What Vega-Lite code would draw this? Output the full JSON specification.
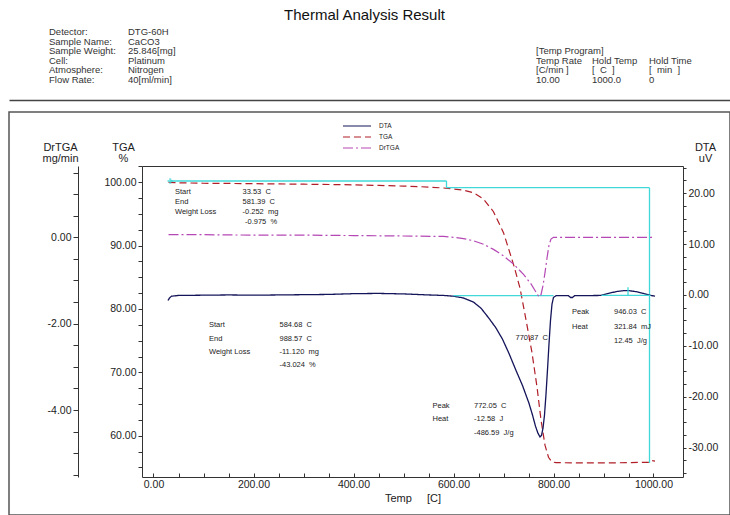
{
  "$schema": "https://vega.github.io/schema/vega-lite/v6.json",
  "width": 721,
  "height": 403,
  "autosize": {"type": "none"},
  "padding": {"left": 9, "top": 112, "right": 0, "bottom": 0},
  "background": "#ffffff",
  "title": {"text": "Thermal Analysis Result", "fontSize": 15, "fontWeight": "normal", "font": "Liberation Sans", "color": "#111111", "anchor": "middle", "frame": "group", "baseline": "alphabetic", "offset": 5, "dx": -5, "dy": 13},
  "config": {
    "font": "Liberation Sans",
    "view": {"stroke": "#555555", "strokeWidth": 1.5},
    "axis": {"labelFont": "Liberation Sans", "labelFontSize": 10.5, "labelColor": "#222222", "domainColor": "#333333", "tickColor": "#333333", "titleFont": "Liberation Sans", "titleFontWeight": "normal", "titleColor": "#222222", "grid": false, "labelFlush": false, "labelOverlap": false}
  },
  "datasets": {
    "header": [
      {"row": 1, "col": 1, "text": "Detector:"}, {"row": 1, "col": 2, "text": "DTG-60H"},
      {"row": 2, "col": 1, "text": "Sample Name:"}, {"row": 2, "col": 2, "text": "CaCO3"},
      {"row": 3, "col": 1, "text": "Sample Weight:"}, {"row": 3, "col": 2, "text": "25.846[mg]"},
      {"row": 4, "col": 1, "text": "Cell:"}, {"row": 4, "col": 2, "text": "Platinum"},
      {"row": 5, "col": 1, "text": "Atmosphere:"}, {"row": 5, "col": 2, "text": "Nitrogen"},
      {"row": 6, "col": 1, "text": "Flow Rate:"}, {"row": 6, "col": 2, "text": "40[ml/min]"},
      {"row": 3, "col": 3, "text": "[Temp Program]"},
      {"row": 4, "col": 3, "text": "Temp Rate"}, {"row": 4, "col": 4, "text": "Hold Temp"}, {"row": 4, "col": 5, "text": "Hold Time"},
      {"row": 5, "col": 3, "text": "[C/min ]"}, {"row": 5, "col": 4, "text": "[\u00a0\u00a0C\u00a0\u00a0]"}, {"row": 5, "col": 5, "text": "[\u00a0\u00a0min\u00a0\u00a0]"},
      {"row": 6, "col": 3, "text": "10.00"}, {"row": 6, "col": 4, "text": "1000.0"}, {"row": 6, "col": 5, "text": "0"}
    ],
    "curves": [
      {"s": "TGA", "t": 30, "v": 100.0}, {"s": "TGA", "t": 50, "v": 99.92}, {"s": "TGA", "t": 100, "v": 99.85}, {"s": "TGA", "t": 200, "v": 99.78},
      {"s": "TGA", "t": 300, "v": 99.7}, {"s": "TGA", "t": 400, "v": 99.6}, {"s": "TGA", "t": 450, "v": 99.5}, {"s": "TGA", "t": 500, "v": 99.4},
      {"s": "TGA", "t": 550, "v": 99.25}, {"s": "TGA", "t": 580, "v": 99.1}, {"s": "TGA", "t": 600, "v": 98.95}, {"s": "TGA", "t": 620, "v": 98.75},
      {"s": "TGA", "t": 640, "v": 98.35}, {"s": "TGA", "t": 660, "v": 97.35}, {"s": "TGA", "t": 680, "v": 95.35}, {"s": "TGA", "t": 700, "v": 92.05},
      {"s": "TGA", "t": 720, "v": 87.05}, {"s": "TGA", "t": 733, "v": 83.3}, {"s": "TGA", "t": 745, "v": 78.3}, {"s": "TGA", "t": 757, "v": 73.1},
      {"s": "TGA", "t": 767, "v": 67.7}, {"s": "TGA", "t": 775, "v": 62.5}, {"s": "TGA", "t": 783, "v": 58.5}, {"s": "TGA", "t": 790, "v": 56.6},
      {"s": "TGA", "t": 797, "v": 55.85}, {"s": "TGA", "t": 805, "v": 55.75}, {"s": "TGA", "t": 850, "v": 55.7}, {"s": "TGA", "t": 900, "v": 55.7},
      {"s": "TGA", "t": 950, "v": 55.75}, {"s": "TGA", "t": 990, "v": 55.8}, {"s": "TGA", "t": 995, "v": 56.1}, {"s": "TGA", "t": 1003, "v": 56.0},
      {"s": "DrTGA", "t": 30, "v": 0.06}, {"s": "DrTGA", "t": 100, "v": 0.06}, {"s": "DrTGA", "t": 200, "v": 0.05}, {"s": "DrTGA", "t": 300, "v": 0.05},
      {"s": "DrTGA", "t": 400, "v": 0.04}, {"s": "DrTGA", "t": 500, "v": 0.03}, {"s": "DrTGA", "t": 580, "v": 0.02}, {"s": "DrTGA", "t": 600, "v": 0.0},
      {"s": "DrTGA", "t": 620, "v": -0.03}, {"s": "DrTGA", "t": 640, "v": -0.08}, {"s": "DrTGA", "t": 660, "v": -0.16}, {"s": "DrTGA", "t": 680, "v": -0.28},
      {"s": "DrTGA", "t": 700, "v": -0.43}, {"s": "DrTGA", "t": 720, "v": -0.62}, {"s": "DrTGA", "t": 740, "v": -0.86}, {"s": "DrTGA", "t": 755, "v": -1.08},
      {"s": "DrTGA", "t": 765, "v": -1.27}, {"s": "DrTGA", "t": 771, "v": -1.38}, {"s": "DrTGA", "t": 775, "v": -1.33}, {"s": "DrTGA", "t": 779, "v": -1.12},
      {"s": "DrTGA", "t": 783, "v": -0.82}, {"s": "DrTGA", "t": 787, "v": -0.48}, {"s": "DrTGA", "t": 791, "v": -0.18}, {"s": "DrTGA", "t": 795, "v": -0.04},
      {"s": "DrTGA", "t": 800, "v": 0.0}, {"s": "DrTGA", "t": 900, "v": 0.0}, {"s": "DrTGA", "t": 1003, "v": 0.0},
      {"s": "DTA", "t": 29, "v": -1.1}, {"s": "DTA", "t": 32, "v": -0.6}, {"s": "DTA", "t": 36, "v": -0.25}, {"s": "DTA", "t": 50, "v": -0.1},
      {"s": "DTA", "t": 100, "v": -0.05}, {"s": "DTA", "t": 150, "v": 0.0}, {"s": "DTA", "t": 200, "v": -0.05}, {"s": "DTA", "t": 250, "v": 0.0},
      {"s": "DTA", "t": 300, "v": 0.05}, {"s": "DTA", "t": 350, "v": 0.1}, {"s": "DTA", "t": 400, "v": 0.25}, {"s": "DTA", "t": 450, "v": 0.3},
      {"s": "DTA", "t": 500, "v": 0.2}, {"s": "DTA", "t": 550, "v": 0.0}, {"s": "DTA", "t": 580, "v": -0.1}, {"s": "DTA", "t": 600, "v": -0.25},
      {"s": "DTA", "t": 620, "v": -0.6}, {"s": "DTA", "t": 640, "v": -1.4}, {"s": "DTA", "t": 655, "v": -2.6}, {"s": "DTA", "t": 671, "v": -4.6},
      {"s": "DTA", "t": 685, "v": -6.5}, {"s": "DTA", "t": 698, "v": -8.7}, {"s": "DTA", "t": 711, "v": -11.5}, {"s": "DTA", "t": 724, "v": -14.6},
      {"s": "DTA", "t": 738, "v": -17.8}, {"s": "DTA", "t": 751, "v": -21.3}, {"s": "DTA", "t": 758, "v": -23.6}, {"s": "DTA", "t": 764, "v": -25.8},
      {"s": "DTA", "t": 769, "v": -27.2}, {"s": "DTA", "t": 773, "v": -27.9}, {"s": "DTA", "t": 776, "v": -27.6}, {"s": "DTA", "t": 779, "v": -26.2},
      {"s": "DTA", "t": 782, "v": -23.6}, {"s": "DTA", "t": 785, "v": -19.5}, {"s": "DTA", "t": 788, "v": -14.7}, {"s": "DTA", "t": 791, "v": -9.6},
      {"s": "DTA", "t": 794, "v": -5.0}, {"s": "DTA", "t": 797, "v": -1.8}, {"s": "DTA", "t": 800, "v": -0.5}, {"s": "DTA", "t": 805, "v": -0.15},
      {"s": "DTA", "t": 830, "v": -0.15}, {"s": "DTA", "t": 834, "v": -0.5}, {"s": "DTA", "t": 838, "v": -0.5}, {"s": "DTA", "t": 842, "v": -0.15},
      {"s": "DTA", "t": 895, "v": -0.1}, {"s": "DTA", "t": 910, "v": 0.3}, {"s": "DTA", "t": 925, "v": 0.65}, {"s": "DTA", "t": 940, "v": 0.85},
      {"s": "DTA", "t": 950, "v": 0.85}, {"s": "DTA", "t": 965, "v": 0.65}, {"s": "DTA", "t": 980, "v": 0.3}, {"s": "DTA", "t": 993, "v": -0.05},
      {"s": "DTA", "t": 1003, "v": -0.25}
    ],
    "tgaMarks": [
      {"seg": "a", "t": 33.5, "v": 100.2}, {"seg": "a", "t": 586, "v": 100.2},
      {"seg": "b", "t": 586, "v": 100.2}, {"seg": "b", "t": 586, "v": 99.15},
      {"seg": "c", "t": 586, "v": 99.15}, {"seg": "c", "t": 992, "v": 99.15},
      {"seg": "d", "t": 992, "v": 99.15}, {"seg": "d", "t": 992, "v": 55.7}
    ],
    "startMark": [{"t": 33.5, "v": 100.2}],
    "dtaMarks": [
      {"seg": "a", "t": 600, "v": -0.15}, {"seg": "a", "t": 800, "v": -0.15},
      {"seg": "b", "t": 896, "v": -0.1}, {"seg": "b", "t": 994, "v": -0.1},
      {"seg": "c", "t": 949, "v": -0.1}, {"seg": "c", "t": 949, "v": 1.5}
    ],
    "notes": [
      {"t": 43, "v": 98.47, "label": "Start"}, {"t": 178, "v": 98.47, "label": "33.53\u00a0\u00a0C"},
      {"t": 43, "v": 96.89, "label": "End"}, {"t": 178, "v": 96.89, "label": "581.39\u00a0\u00a0C"},
      {"t": 43, "v": 95.31, "label": "Weight Loss"}, {"t": 178, "v": 95.31, "label": "-0.252\u00a0\u00a0mg"},
      {"t": 183, "v": 93.73, "label": "-0.975\u00a0\u00a0%"},
      {"t": 111, "v": 77.47, "label": "Start"}, {"t": 252, "v": 77.47, "label": "584.68\u00a0\u00a0C"},
      {"t": 111, "v": 75.34, "label": "End"}, {"t": 252, "v": 75.34, "label": "988.57\u00a0\u00a0C"},
      {"t": 111, "v": 73.21, "label": "Weight Loss"}, {"t": 252, "v": 73.21, "label": "-11.120\u00a0\u00a0mg"},
      {"t": 252, "v": 71.08, "label": "-43.024\u00a0\u00a0%"},
      {"t": 558, "v": 64.69, "label": "Peak"}, {"t": 641, "v": 64.69, "label": "772.05\u00a0\u00a0C"},
      {"t": 558, "v": 62.56, "label": "Heat"}, {"t": 641, "v": 62.56, "label": "-12.58\u00a0\u00a0J"},
      {"t": 641, "v": 60.43, "label": "-486.59\u00a0\u00a0J/g"},
      {"t": 837, "v": 79.45, "label": "Peak"}, {"t": 921, "v": 79.45, "label": "946.03\u00a0\u00a0C"},
      {"t": 837, "v": 77.16, "label": "Heat"}, {"t": 921, "v": 77.16, "label": "321.84\u00a0\u00a0mJ"},
      {"t": 921, "v": 74.87, "label": "12.45\u00a0\u00a0J/g"},
      {"t": 724, "v": 75.42, "label": "770.87\u00a0\u00a0C"}
    ]
  },
  "resolve": {"scale": {"x": "independent", "y": "independent"}},
  "layer": [
    {
      "data": {"name": "header"},
      "mark": {"type": "text", "align": "left", "baseline": "middle", "fontSize": 9.5, "color": "#333333", "font": "Liberation Sans"},
      "encoding": {
        "x": {"field": "col", "type": "quantitative", "scale": {"domain": [0, 1, 2, 3, 4, 5, 6], "range": [0, 40, 119, 527, 583, 640, 721], "nice": false, "zero": false},
              "axis": {"orient": "top", "offset": 12, "labels": false, "ticks": false, "domain": true, "domainColor": "#444444", "domainWidth": 1.5, "title": null}},
        "y": {"field": "row", "type": "quantitative", "scale": {"domain": [1, 6], "range": [-80, -32], "nice": false, "zero": false}, "axis": null},
        "text": {"field": "text"}
      }
    },
    {
      "encoding": {
        "x": {"field": "t", "type": "quantitative", "scale": {"domain": [-23, 1059], "range": [133, 674], "nice": false, "zero": false},
              "axis": {"orient": "bottom", "offset": -38, "values": [0, 50, 100, 150, 200, 250, 300, 350, 400, 450, 500, 550, 600, 650, 700, 750, 800, 850, 900, 950, 1000],
                       "labelExpr": "datum.value % 200 === 0 ? format(datum.value, '.2f') : ''", "tickSize": -4, "labelPadding": 6,
                       "title": "Temp\u00a0\u00a0\u00a0\u00a0\u00a0[C]", "titleFontSize": 11, "titlePadding": 3}},
        "y": {"field": "v", "type": "quantitative", "scale": {"domain": [53.48, 102.57], "range": [365, 54], "nice": false, "zero": false},
              "axis": {"orient": "left", "offset": -133, "values": [55, 57.5, 60, 62.5, 65, 67.5, 70, 72.5, 75, 77.5, 80, 82.5, 85, 87.5, 90, 92.5, 95, 97.5, 100, 102.5],
                       "labelExpr": "datum.value % 10 === 0 ? format(datum.value, '.2f') : ''", "tickSize": 4, "labelPadding": 2,
                       "title": ["TGA", "%"], "titleAngle": 0, "titleAlign": "center", "titleBaseline": "alphabetic", "titleX": -19, "titleY": 38, "titleFontSize": 11, "titleLineHeight": 11}}
      },
      "layer": [
        {
          "data": {"name": "curves"},
          "transform": [{"filter": "datum.s === 'TGA'"}],
          "mark": {"type": "line", "strokeWidth": 1.2},
          "encoding": {
            "color": {"field": "s", "type": "nominal", "scale": {"domain": ["DTA", "TGA", "DrTGA"], "range": ["#14145a", "#b01e28", "#b548b5"]},
                      "legend": {"orient": "none", "legendX": 343, "legendY": 9, "title": null, "symbolType": "M-3.5,0H3.5", "symbolSize": 64, "symbolStrokeWidth": 1.2, "labelFontSize": 6.5, "labelOffset": 17, "rowPadding": 2, "padding": 0, "labelColor": "#222222"}},
            "strokeDash": {"field": "s", "type": "nominal", "scale": {"domain": ["DTA", "TGA", "DrTGA"], "range": [[1, 0], [7, 4], [10, 3, 2, 3]]},
                      "legend": {"orient": "none", "legendX": 343, "legendY": 9, "title": null, "symbolType": "M-3.5,0H3.5", "symbolSize": 64, "symbolStrokeWidth": 1.2, "labelFontSize": 6.5, "labelOffset": 17, "rowPadding": 2, "padding": 0, "labelColor": "#222222"}}
          }
        },
        {
          "data": {"name": "tgaMarks"},
          "mark": {"type": "line", "color": "#40d8d8", "strokeWidth": 1.3},
          "encoding": {"detail": {"field": "seg"}}
        },
        {
          "data": {"name": "startMark"},
          "mark": {"type": "point", "shape": "cross", "filled": true, "color": "#40d8d8", "size": 30}
        },
        {
          "data": {"name": "notes"},
          "mark": {"type": "text", "align": "left", "baseline": "middle", "fontSize": 7.5, "color": "#222222", "font": "Liberation Sans"},
          "encoding": {"text": {"field": "label"}}
        }
      ]
    },
    {
      "encoding": {
        "x": {"field": "t", "type": "quantitative", "scale": {"domain": [-23, 1059], "range": [133, 674], "nice": false, "zero": false},
              "axis": {"orient": "top", "offset": -54, "labels": false, "ticks": false, "domain": true, "title": null}},
        "y": {"field": "v", "type": "quantitative", "scale": {"domain": [-35.78, 25.34], "range": [365, 54], "nice": false, "zero": false},
              "axis": {"orient": "right", "offset": -47, "values": [-35, -32.5, -30, -27.5, -25, -22.5, -20, -17.5, -15, -12.5, -10, -7.5, -5, -2.5, 0, 2.5, 5, 7.5, 10, 12.5, 15, 17.5, 20, 22.5, 25],
                       "labelExpr": "datum.value % 10 === 0 ? (datum.value < 0 ? '-' : '') + format(abs(datum.value), '.2f') : ''", "tickSize": 3, "labelPadding": 2,
                       "title": ["DTA", "uV"], "titleAngle": 0, "titleAlign": "center", "titleBaseline": "alphabetic", "titleX": 22, "titleY": 38, "titleFontSize": 11, "titleLineHeight": 11}}
      },
      "layer": [
        {
          "data": {"name": "curves"},
          "transform": [{"filter": "datum.s === 'DTA'"}],
          "mark": {"type": "line", "strokeWidth": 1.3},
          "encoding": {
            "color": {"field": "s", "type": "nominal"},
            "strokeDash": {"field": "s", "type": "nominal"}
          }
        },
        {
          "data": {"name": "dtaMarks"},
          "mark": {"type": "line", "color": "#40d8d8", "strokeWidth": 1.3},
          "encoding": {"detail": {"field": "seg"}}
        }
      ]
    },
    {
      "data": {"name": "curves"},
      "transform": [{"filter": "datum.s === 'DrTGA'"}],
      "mark": {"type": "line", "strokeWidth": 1.2},
      "encoding": {
        "x": {"field": "t", "type": "quantitative", "scale": {"domain": [-23, 1059], "range": [133, 674], "nice": false, "zero": false}, "axis": null},
        "y": {"field": "v", "type": "quantitative", "scale": {"domain": [-5.551, 1.651], "range": [365, 54], "nice": false, "zero": false},
              "axis": {"orient": "left", "offset": -69, "values": [-5.5, -5, -4.5, -4, -3.5, -3, -2.5, -2, -1.5, -1, -0.5, 0, 0.5, 1, 1.5],
                       "labelExpr": "datum.value % 2 === 0 ? (datum.value < 0 ? '-' : '') + format(abs(datum.value), '.2f') : ''", "tickSize": 5, "labelPadding": 2,
                       "title": ["DrTGA", "mg/min"], "titleAngle": 0, "titleAlign": "center", "titleBaseline": "alphabetic", "titleX": -18, "titleY": 38, "titleFontSize": 11, "titleLineHeight": 11}},
        "color": {"field": "s", "type": "nominal"},
        "strokeDash": {"field": "s", "type": "nominal"}
      }
    }
  ]
}
